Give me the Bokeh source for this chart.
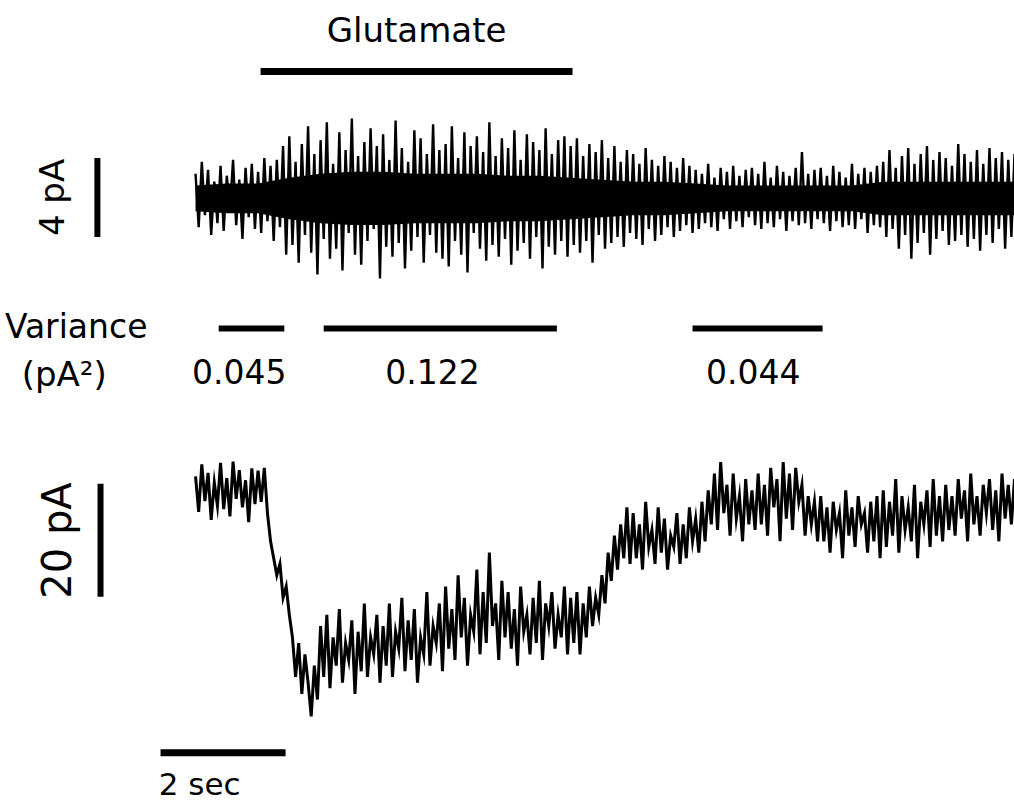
import numpy as np
from bokeh.plotting import figure
from bokeh.models import Range1d
from bokeh.core.properties import value
from bokeh.embed import file_html
from bokeh.resources import INLINE

# Sampling interval of both traces (s)
DT = 0.05

# Upper trace: high-pass filtered current noise (pA)
noise_pa = [
    1.2, -1.5, 1.8, -0.9, 1.4, -1.9, 0.8, -1.3, 1.6, -1.7, 1.1, -0.6, 1.9, -1.4, 0.9, -2.1, 1.5, -1.0, 1.7, -1.6,
    1.3, -1.8, 2.0, -1.2, 1.6, -2.2, 1.9, -1.5, 2.6, -2.9, 3.1, -2.4, 1.8, -3.3, 2.7, -1.9, 3.6, -2.8, 2.2, -3.9,
    2.9, -2.1, 3.8, -3.1, 1.7, -2.6, 3.3, -3.7, 2.4, -1.8, 4.0, -2.9, 2.1, -3.4, 2.8, -2.2, 3.5, -1.6, 2.6, -4.1,
    3.2, -2.5, 1.9, -3.0, 3.9, -2.3, 2.5, -3.6, 1.8, -2.7, 3.4, -2.0, 3.0, -3.3, 2.2, -1.9, 3.7, -2.8, 2.4, -3.1,
    2.7, -3.5, 3.6, -2.2, 2.0, -2.9, 3.3, -3.8, 2.6, -1.8, 3.1, -2.6, 2.3, -3.2, 3.8, -2.4, 2.1, -3.0, 3.0, -2.1,
    2.5, -3.4, 3.4, -2.7, 1.9, -2.3, 3.2, -3.1, 2.8, -2.0, 2.4, -3.6, 3.5, -2.5, 2.2, -2.9, 2.9, -2.2, 3.1, -3.0,
    2.6, -2.4, 3.0, -2.8, 2.1, -2.2, 2.7, -3.3, 2.3, -1.9, 2.9, -2.6, 2.0, -2.3, 2.6, -2.0, 1.8, -2.5, 2.4, -1.8,
    2.2, -2.1, 1.7, -2.4, 2.5, -1.6, 1.9, -2.2, 1.6, -1.9, 2.1, -1.5, 1.8, -2.0, 1.5, -1.7, 2.0, -1.4, 1.6, -1.8,
    1.4, -1.6, 1.2, -1.3, 1.7, -1.5, 1.0, -1.7, 1.5, -1.1, 1.3, -1.6, 1.6, -1.2, 1.1, -1.5, 1.4, -1.0, 1.5, -1.4,
    1.2, -1.6, 1.8, -1.3, 1.0, -1.5, 1.6, -1.1, 1.3, -1.7, 1.1, -1.2, 1.5, -1.4, 2.3, -1.3, 1.2, -1.6, 1.4, -1.1,
    1.5, -1.3, 1.1, -1.7, 1.6, -1.2, 1.3, -1.5, 1.0, -1.4, 1.7, -1.6, 1.2, -1.1, 1.5, -1.8, 1.3, -1.4, 1.6, -1.5,
    1.8, -2.0, 2.4, -1.6, 1.5, -2.6, 2.1, -1.9, 2.5, -3.1, 1.7, -2.3, 2.2, -1.8, 2.6, -2.9, 1.9, -2.1, 2.3, -1.7,
    2.0, -2.4, 1.6, -2.2, 2.7, -1.9, 2.2, -2.5, 1.8, -2.1, 2.4, -2.7, 1.7, -1.9, 2.5, -2.3, 2.0, -1.6, 2.3, -2.6,
    1.9, -2.0, 2.2,
]

# Dense core of the upper trace: times (s), upper and lower edges (pA)
noise_core_t = [0, 0.5, 1.0, 1.5, 2.0, 2.5, 3.0, 3.5, 4.0, 4.5, 5.0, 5.5, 6.0, 6.5,
                7.0, 7.5, 8.0, 8.5, 9.0, 9.5, 10.0, 10.5, 11.0, 11.5, 12.0, 12.5, 13.0, 13.1]
noise_core_hi = [0.6, 0.7, 0.7, 1.0, 1.2, 1.3, 1.3, 1.2, 1.2, 1.2, 1.1, 1.1, 1.0, 0.9,
                 0.8, 0.8, 0.7, 0.6, 0.6, 0.6, 0.6, 0.6, 0.8, 0.8, 0.8, 0.8, 0.8, 0.8]
noise_core_lo = [-0.7, -0.8, -0.8, -1.1, -1.3, -1.4, -1.4, -1.3, -1.3, -1.3, -1.2, -1.2, -1.1, -1.0,
                 -0.9, -0.9, -0.8, -0.7, -0.7, -0.7, -0.7, -0.7, -0.9, -0.9, -0.9, -0.9, -0.9, -0.9]

# Lower trace: whole-cell current (pA)
current_pa = [
    2.5, -3.8, 4.6, -1.9, 3.1, -5.2, 1.4, -2.7, 4.9, -3.3, 2.2, -4.6, 5.1, -1.5, 3.6, -3.0, 1.8, -5.6, 3.9, -2.4,
    3.5, -2.0, 4.0, -4.0, -9, -12, -15, -13, -19, -17, -22, -26, -33, -27, -36, -29, -34, -40, -31, -37,
    -24, -33, -22, -35, -26, -31, -21, -34, -27, -30, -23, -36, -25, -32, -20, -33, -26, -29, -22, -34,
    -24, -31, -20, -33, -25, -28, -19, -32, -23, -30, -21, -34, -26, -29, -18, -31, -24, -27, -20, -32,
    -17, -28, -21, -30, -15, -26, -19, -31, -22, -25, -14, -29, -18, -27, -11, -24, -20, -30, -16, -26,
    -18, -28, -21, -31, -17, -25, -22, -29, -19, -27, -16, -30, -20, -24, -18, -28, -22, -26, -17, -29,
    -19, -27, -18, -29, -20, -26, -17, -24, -19, -22, -15, -20, -11, -16, -8, -14, -6, -12, -3, -13,
    -4, -12, -6, -14, -2, -10, -7, -13, -3, -11, -5, -14, -8, -10, -4, -13, -6, -12, -3, -9,
    -5, -11, -2, -9, 0, -6, 3, -7, 5, -4, 1, -8, 3, -5, -1, -9, 2, -6, 0, -7,
    3, -6, 1, -8, 4, -3, 2, -9, 5, -5, 3, -7, 4, -2, 1, -8, -1, -6, -2, -9,
    -1, -9, -3, -11, -2, -7, -4, -12, 0, -8, -3, -10, -1, -6, -4, -11, -2, -9, -1, -12,
    0, -10, -2, -8, 2, -11, -1, -7, -3, -9, 1, -12, -2, -6, 0, -10, 2, -8, -1, -9,
    1, -7, -1, -8, 2, -5, 0, -9, 3, -6, -1, -8, 1, -4, 2, -7, 0, -9, 3, -5,
    1, -6, 2,
]

# Glutamate application (s)
glutamate_on = 1.04
glutamate_off = 6.03

# Windows used for the variance estimates (s) and their values (pA^2)
var_start = [0.37, 2.05, 7.95]
var_end = [1.42, 5.78, 10.03]
var_label_t = [0.70, 3.79, 8.92]
var_values = ["0.045", "0.122", "0.044"]

t_noise = np.arange(len(noise_pa)) * DT
t_current = np.arange(len(current_pa)) * DT

FONT = value("DejaVu Sans")

p = figure(
    width=1014, height=803,
    x_range=Range1d(-3.12, 13.1),
    y_range=Range1d(-30.68, 9.97),
    output_backend="svg", toolbar_location=None,
    x_axis_location=None, y_axis_location=None,
    min_border=0,
)
p.extra_y_ranges = {"slow": Range1d(-55.4, 86.7)}
p.grid.visible = False
p.outline_line_color = None
p.background_fill_color = "white"

# traces
p.varea(x=noise_core_t, y1=noise_core_lo, y2=noise_core_hi, fill_color="black")
p.line(t_noise, noise_pa, line_color="black", line_width=2.4, line_join="miter")
p.line(t_current, current_pa, line_color="black", line_width=3.0,
       line_join="miter", y_range_name="slow")

# glutamate bar and label
p.segment(x0=[glutamate_on], y0=[6.38], x1=[glutamate_off], y1=[6.38],
          line_color="black", line_width=7)
p.text(x=[(glutamate_on + glutamate_off) / 2], y=[8.5], text=["Glutamate"],
       text_font=FONT, text_font_size="34px", text_align="center",
       text_baseline="middle", text_color="black")

# variance windows
p.segment(x0=var_start, y0=[-6.63] * 3, x1=var_end, y1=[-6.63] * 3,
          line_color="black", line_width=6)
p.text(x=var_label_t, y=[-8.8] * 3, text=var_values,
       text_font=FONT, text_font_size="33px", text_align="center",
       text_baseline="middle", text_color="black")
p.text(x=[-3.05], y=[-6.55], text=["Variance"], text_font=FONT,
       text_font_size="33px", text_align="left", text_baseline="middle",
       text_color="black")
p.text(x=[-2.78], y=[-8.95], text=["(pA²)"], text_font=FONT,
       text_font_size="34px", text_align="left", text_baseline="middle",
       text_color="black")

# scale bars
p.segment(x0=[-1.57], y0=[2.0], x1=[-1.57], y1=[-2.0], line_color="black", line_width=6)
p.text(x=[-2.29], y=[0.0], text=["4 pA"], angle=np.pi / 2, text_font=FONT,
       text_font_size="34px", text_align="center", text_baseline="middle",
       text_color="black")

p.segment(x0=[-1.52], y0=[1.2], x1=[-1.52], y1=[-18.8], line_color="black",
          line_width=6, y_range_name="slow")
p.text(x=[-2.21], y=[-8.85], text=["20 pA"], angle=np.pi / 2, text_font=FONT,
       text_font_size="40px", text_align="center", text_baseline="middle",
       text_color="black", y_range_name="slow")

p.segment(x0=[-0.56], y0=[-46.4], x1=[1.44], y1=[-46.4], line_color="black",
          line_width=7, y_range_name="slow")
p.text(x=[-0.59], y=[-52.0], text=["2 sec"], text_font=FONT,
       text_font_size="31px", text_align="left", text_baseline="middle",
       text_color="black", y_range_name="slow")

open("out.html", "w").write(file_html(p, INLINE))
